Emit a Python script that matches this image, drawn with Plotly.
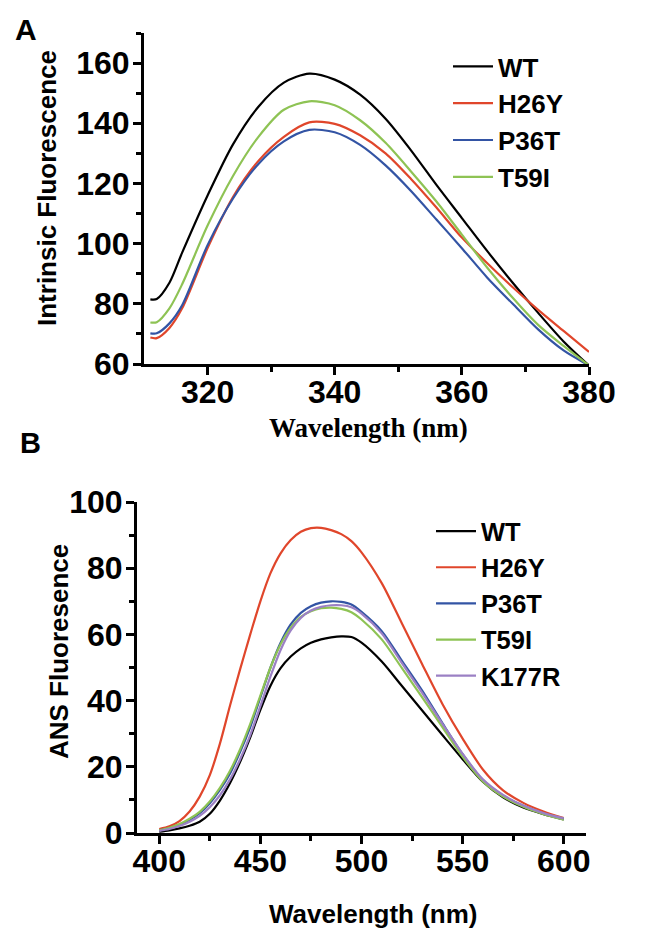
import plotly.graph_objects as go

PAGE_W, PAGE_H = 662, 936
OFF = 8  # default body margin of the html page
W, H = PAGE_W - 2 * OFF, PAGE_H - 2 * OFF

# ---------------- Panel A data (intrinsic fluorescence) ----------------
wl_a = [311, 312, 314, 316, 320, 324, 328, 332, 336, 340, 344, 348, 352, 356, 360, 364, 368, 372, 376, 380]
a_wt = [81.5, 81.6, 87, 97, 116, 133, 145.5, 153.5, 156.5, 154.5, 149.5, 141.5, 131, 119.5, 108.5, 97.5, 87, 77, 67.5, 59.5]
a_h26y = [68.8, 68.6, 72, 78.5, 98.5, 115.5, 127.5, 135.5, 140.3, 139.8, 136, 130, 121.5, 112, 102, 93.5, 85.5, 78, 71, 64]
a_p36t = [70.2, 70.2, 73.5, 79.5, 99.5, 115, 126.5, 134, 137.8, 137, 132.8, 126, 117.5, 108, 98.5, 88.7, 80, 71.5, 64.5, 59.5]
a_t59i = [73.8, 73.9, 78.5, 86.5, 106, 122.5, 135.5, 144.5, 147.3, 146, 141, 133.5, 124, 114, 103, 92, 82, 73, 66, 59.5]

# ---------------- Panel B data (ANS fluorescence) ----------------
wl_b = [400, 405, 410, 415, 420, 425, 430, 435, 440, 445, 450, 455, 460, 465, 470, 475, 480, 485,
        490, 495, 500, 510, 520, 530, 540, 550, 560, 570, 580, 590, 600]
b_wt = [0.4, 0.8, 1.4, 2.2, 3.4, 5.8, 9.8, 15.1, 21.5, 28.9, 37.2, 44.5, 49.8, 53.3, 55.8, 57.5, 58.5, 59.1,
        59.4, 59.2, 57.5, 51.8, 44.4, 37, 29.6, 22.3, 15.5, 10.8, 7.7, 5.7, 4.1]
b_h26y = [1.2, 2.0, 3.6, 6.5, 11, 17.5, 27, 38.5, 49.5, 60, 70, 78.5, 84.5, 88.5, 91, 92.1, 92.2, 91.5,
          90.3, 88.2, 84.8, 75.5, 63.3, 51, 39, 28.5, 19.2, 12.9, 9.1, 6.5, 4.5]
b_p36t = [0.8, 1.5, 2.5, 4, 6, 9, 13, 18, 24.5, 32, 41, 50, 57.5, 63, 66.5, 68.5, 69.6, 70,
          69.8, 69, 66.8, 61, 52, 43, 33.2, 23.8, 16, 11.3, 8.2, 5.9, 4.2]
b_t59i = [0.8, 1.6, 2.7, 4.3, 6.4, 9.5, 13.6, 18.8, 25.3, 33, 41.5, 50, 57, 62, 65.3, 67, 67.9, 68.1,
          67.7, 66.7, 64.5, 58.5, 49.8, 41, 32, 23, 15.6, 11, 7.9, 5.7, 4.0]
b_k177r = [0.6, 1.2, 2.1, 3.4, 5.2, 7.8, 11.4, 16.2, 22.3, 29.6, 38.3, 47.3, 55.3, 61.2, 65, 67.2, 68.3, 68.8,
           68.8, 68.2, 66.3, 60.3, 51.3, 42.3, 33, 23.9, 16.2, 11.5, 8.3, 6, 4.4]

names_a = ["WT", "H26Y", "P36T", "T59I"]
names_b = ["WT", "H26Y", "P36T", "T59I", "K177R"]
colors = {"WT": "#000000", "H26Y": "#e0462b", "P36T": "#3354a4", "T59I": "#8ec354", "K177R": "#9b80c4"}

SANS = "Liberation Sans, Arial, sans-serif"
SERIF = "Liberation Serif, Times New Roman, serif"


def px_x(x):
    """page pixel x -> paper fraction"""
    return (x - OFF) / W


def px_y(y):
    """page pixel y -> paper fraction"""
    return 1 - (y - OFF) / H


fig = go.Figure()

for name, vals in zip(names_a, [a_wt, a_h26y, a_p36t, a_t59i]):
    fig.add_trace(go.Scatter(x=wl_a, y=vals, mode="lines", name=name,
                             line=dict(color=colors[name], width=2.2, shape="spline", smoothing=0.8),
                             xaxis="x", yaxis="y", legend="legend"))

for name, vals in zip(names_b, [b_wt, b_h26y, b_p36t, b_t59i, b_k177r]):
    fig.add_trace(go.Scatter(x=wl_b, y=vals, mode="lines", name=name,
                             line=dict(color=colors[name], width=2.2, shape="spline", smoothing=0.8),
                             xaxis="x2", yaxis="y2", legend="legend2"))

axis_common = dict(showline=True, linecolor="black", linewidth=3, mirror=False, automargin=False,
                   showgrid=False, zeroline=False, ticks="outside", ticklen=8, tickwidth=3,
                   tickcolor="black")

tickfont = dict(family=SANS, size=32, color="black", weight="bold")
minor_style = dict(ticklen=5, tickwidth=3, tickcolor="black", ticks="outside")

fig.update_layout(
    width=W, height=H,
    margin=dict(l=0, r=0, t=0, b=0, pad=0, autoexpand=False),
    paper_bgcolor="white", plot_bgcolor="white",
    xaxis=dict(domain=[px_x(144), px_x(589)], range=[310, 380], anchor="y",
               tickvals=[320, 340, 360, 380], tickfont=tickfont, ticklabelstandoff=-10,
               minor=dict(tickvals=[330, 350, 370], **minor_style),
               **axis_common),
    yaxis=dict(domain=[px_y(364), px_y(33)], range=[60, 170], anchor="x",
               tickvals=[60, 80, 100, 120, 140, 160], tickfont=tickfont, ticklabelstandoff=-3,
               minor=dict(tickvals=[70, 90, 110, 130, 150, 170], **minor_style),
               **axis_common),
    xaxis2=dict(domain=[px_x(137), px_x(586)], range=[389, 611], anchor="y2",
                tickvals=[400, 450, 500, 550, 600], tickfont=tickfont, ticklabelstandoff=-10,
                minor=dict(tickvals=[425, 475, 525, 575], **minor_style),
                **axis_common),
    yaxis2=dict(domain=[px_y(833), px_y(502)], range=[0, 100], anchor="x2",
                tickvals=[0, 20, 40, 60, 80, 100], tickfont=tickfont, ticklabelstandoff=-3,
                minor=dict(tickvals=[10, 30, 50, 70, 90], **minor_style),
                **axis_common),
    legend=dict(x=px_x(448), y=px_y(43), xanchor="left", yanchor="top", itemwidth=40,
                bgcolor="rgba(0,0,0,0)", borderwidth=0, tracegroupgap=0,
                font=dict(family=SANS, size=26, color="black", weight="bold")),
    legend2=dict(x=px_x(431), y=px_y(508), xanchor="left", yanchor="top", itemwidth=40,
                 bgcolor="rgba(0,0,0,0)", borderwidth=0, tracegroupgap=0,
                 font=dict(family=SANS, size=25.5, color="black", weight="bold")),
    showlegend=True,
)

annotations = [
    dict(text="A", x=px_x(26), y=px_y(30), font=dict(family=SANS, size=30, color="black", weight="bold")),
    dict(text="B", x=px_x(30), y=px_y(443), font=dict(family=SANS, size=29, color="black", weight="bold")),
    dict(text="Intrinsic Fluorescence", x=px_x(47), y=px_y(188), textangle=-90,
         font=dict(family=SANS, size=26, color="black", weight="bold")),
    dict(text="Wavelength (nm)", x=px_x(368), y=px_y(428),
         font=dict(family=SERIF, size=27, color="black", weight="bold")),
    dict(text="ANS Fluoresence", x=px_x(59), y=px_y(652), textangle=-90,
         font=dict(family=SANS, size=26, color="black", weight="bold")),
    dict(text="Wavelength (nm)", x=px_x(373), y=px_y(914),
         font=dict(family=SANS, size=26, color="black", weight="bold")),
]
for a in annotations:
    a.update(xref="paper", yref="paper", showarrow=False, xanchor="center", yanchor="middle")
fig.update_layout(annotations=annotations)

fig.write_html("out.html")
